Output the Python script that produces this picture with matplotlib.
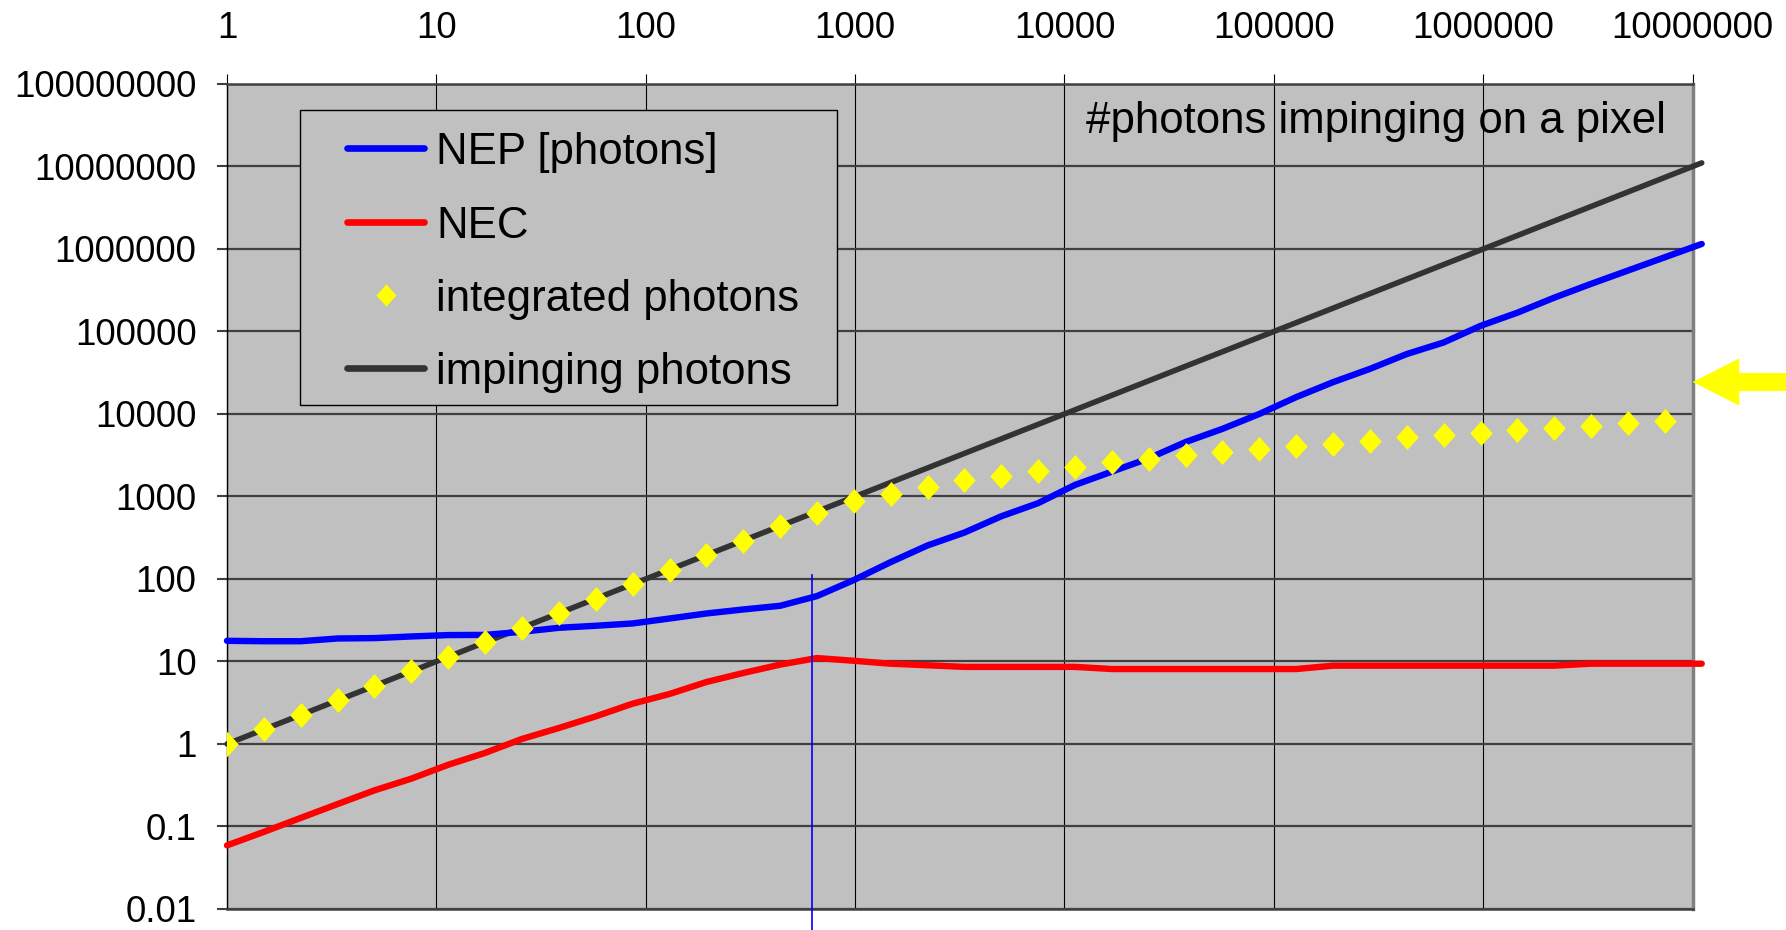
import matplotlib
matplotlib.use("Agg")
import matplotlib.pyplot as plt
from matplotlib.lines import Line2D
from matplotlib.patches import Rectangle

# photon flux steps (x, impinging photons per pixel)
photons = [1, 1.5, 2.25, 3.375, 5.06, 7.59, 11.4, 17.1, 25.6, 38.4, 57.7, 86.5,
           130, 195, 292, 438, 657, 985, 1478, 2217, 3325, 4988, 7482, 11223,
           16834, 25251, 37877, 56815, 85223, 127834, 191751, 287627, 431440,
           647160, 970740, 1456110, 2184164, 3276247, 4914370, 7371555, 11057332]
impinging = [1, 1.5, 2.25, 3.375, 5.06, 7.59, 11.4, 17.1, 25.6, 38.4, 57.7, 86.5,
             130, 195, 292, 438, 657, 985, 1478, 2217, 3325, 4988, 7482, 11223,
             16834, 25251, 37877, 56815, 85223, 127834, 191751, 287627, 431440,
             647160, 970740, 1456110, 2184164, 3276247, 4914370, 7371555, 11057332]
nep = [17.8, 17.6, 17.6, 19.0, 19.2, 20.1, 20.9, 21.0, 22.9, 25.6, 27.1, 28.9,
       33.2, 38.2, 42.7, 47.3, 62, 97, 160, 255, 365, 575, 830, 1380, 2000, 2900,
       4570, 6600, 10000, 16000, 24300, 35200, 53300, 73600, 117000, 169000,
       257000, 378000, 548000, 794000, 1150000]
nec = [0.059, 0.086, 0.127, 0.187, 0.274, 0.38, 0.56, 0.78, 1.15, 1.56, 2.16,
       3.08, 4.04, 5.64, 7.25, 9.16, 11.0, 10.2, 9.4, 9.0, 8.6, 8.6, 8.6, 8.6,
       8.1, 8.1, 8.1, 8.1, 8.1, 8.1, 8.9, 8.9, 8.9, 8.9, 8.9, 8.9, 8.9, 9.4,
       9.4, 9.4, 9.4]
integrated = [1, 1.5, 2.25, 3.4, 5.1, 7.6, 11.4, 17.1, 25.6, 38.4, 57.7, 86.5,
              130, 195, 292, 438, 635, 870, 1070, 1300, 1580, 1790, 2050, 2300,
              2650, 2820, 3180, 3440, 3790, 4040, 4310, 4640, 5240, 5580, 5960,
              6360, 6780, 7230, 7720, 8160]
saturation_x = 620          # blue marker line
arrow_level = 24400         # yellow arrow at right

xticks = [1, 10, 100, 1000, 10000, 100000, 1000000, 10000000]
xlabels = ["1", "10", "100", "1000", "10000", "100000", "1000000", "10000000"]
yticks = [0.01, 0.1, 1, 10, 100, 1000, 10000, 100000, 1000000, 10000000, 100000000]
ylabels = ["0.01", "0.1", "1", "10", "100", "1000", "10000", "100000",
           "1000000", "10000000", "100000000"]

BLUE, RED, YEL, DARK = "#0000FF", "#FF0000", "#FFFF00", "#333333"
diamond = [(0, 1), (0.9, 0), (0, -1), (-0.9, 0)]

plt.rcParams.update({"font.family": ["Liberation Sans", "DejaVu Sans"]})
fig = plt.figure(figsize=(17.86, 9.30), dpi=100)
ax = fig.add_axes([0.1271, 0.0226, 0.8206, 0.8871])
ax.set_facecolor("#C0C0C0")
ax.set_xscale("log"); ax.set_yscale("log")
ax.set_xlim(1, 1e7); ax.set_ylim(0.01, 1e8)

ax.plot(photons, impinging, color=DARK, lw=4.0, solid_capstyle="round",
        clip_on=False, zorder=3)
ax.plot(photons, nec, color=RED, lw=4.6, solid_capstyle="round",
        clip_on=False, zorder=4)
ax.plot(photons, nep, color=BLUE, lw=4.6, solid_capstyle="round",
        clip_on=False, zorder=4)
ax.plot(photons[:len(integrated)], integrated, ls="none", marker=diamond, ms=18,
        color=YEL, mec="none", zorder=5)
ax.plot([saturation_x, saturation_x], [0.0056, 112], color=BLUE, lw=1.2,
        clip_on=False, zorder=6)

ax.set_xticks(xticks); ax.set_xticklabels(xlabels)
ax.set_yticks(yticks); ax.set_yticklabels(ylabels)
ax.minorticks_off()
ax.xaxis.set_ticks_position("top")
ax.tick_params(axis="x", direction="out", length=7, width=0.8, color="black",
               pad=20, labelsize=26.5)
ax.tick_params(axis="y", direction="out", length=7, width=1.5, color="#404040",
               pad=15, labelsize=26.5)
ax.xaxis.grid(True, color="black", lw=0.8)
ax.yaxis.grid(True, color="#404040", lw=1.6)
ax.set_axisbelow(True)
for s in ("top", "bottom"):
    ax.spines[s].set_color("#404040"); ax.spines[s].set_linewidth(1.8)
ax.spines["left"].set_color("black"); ax.spines["left"].set_linewidth(1.0)
ax.spines["right"].set_color("#808080"); ax.spines["right"].set_linewidth(2.5)

ax.text(0.982, 0.955, "#photons impinging on a pixel", transform=ax.transAxes,
        ha="right", va="center", fontsize=31.5)

# legend box, drawn by hand to match the spreadsheet layout
ax.add_patch(Rectangle((0.0495, 0.6103), 0.3667, 0.3576, transform=ax.transAxes,
                       facecolor="#C0C0C0", edgecolor="black", lw=1.0, zorder=8))
leg_rows = [0.9224, 0.8327, 0.7442, 0.6558]
leg_items = [("NEP [photons]", BLUE, "line"), ("NEC", RED, "line"),
             ("integrated photons", YEL, "marker"), ("impinging photons", DARK, "line")]
for yy, (lab, col, kind) in zip(leg_rows, leg_items):
    if kind == "line":
        ax.add_line(Line2D([0.0821, 0.1341], [yy, yy], transform=ax.transAxes,
                           color=col, lw=4.8, solid_capstyle="round", zorder=9))
    else:
        ax.add_line(Line2D([0.1085], [yy], transform=ax.transAxes, ls="none",
                           marker=diamond, ms=16, color=col, mec="none", zorder=9))
    ax.text(0.1428, yy - 0.005, lab, transform=ax.transAxes, ha="left",
            va="center", fontsize=31.5, zorder=9)

ax.annotate("", xy=(1.0, arrow_level), xycoords=("axes fraction", "data"),
            xytext=(1.08, arrow_level), textcoords=("axes fraction", "data"),
            annotation_clip=False,
            arrowprops=dict(arrowstyle="simple,head_length=3.36,head_width=3.4,tail_width=1.3",
                            fc=YEL, ec="none", shrinkA=0, shrinkB=0,
                            mutation_scale=10))

fig.savefig("out.png", dpi=100)
